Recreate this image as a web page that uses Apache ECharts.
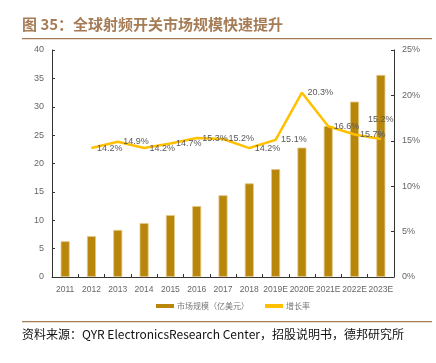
<!DOCTYPE html>
<html><head><meta charset="utf-8">
<script src="https://cdn.jsdelivr.net/npm/echarts@6/dist/echarts.min.js"></script>
<style>html,body{margin:0;padding:0;background:#fff}#c{width:436px;height:363px}</style>
</head><body><div id="c"></div>
<script>
const categories = ['2011','2012','2013','2014','2015','2016','2017','2018','2019E','2020E','2021E','2022E','2023E'];
const marketSize = [6.3, 7.2, 8.3, 9.5, 10.9, 12.5, 14.4, 16.5, 19.0, 22.8, 26.6, 30.9, 35.6];
const growthRate = [null, 14.2, 14.9, 14.2, 14.7, 15.3, 15.2, 14.2, 15.1, 20.3, 16.6, 15.7, 15.2];
const leftTicks = [0, 40, 5];
const rightTicks = [0, 25, 5];

const chart = echarts.init(document.getElementById('c'), null, {renderer:'canvas'});
const lineData = growthRate.map((v, i) => {
  if (i === growthRate.length - 1) {
    return {value: v, label: {position: 'top', distance: 14, offset: [0, 0]}, labelLine: {show: true}};
  }
  return v;
});
chart.setOption({
  animation: false,
  grid: {left: 52, right: 42, top: 50, bottom: 86},
  graphic: [
    {type: 'text', left: 22, top: 17, style: {text: '图 35：全球射频开关市场规模快速提升', font: 'bold 15px "Noto Sans CJK SC", sans-serif', fill: '#A57C55'}},
    {type: 'rect', left: 22, top: 38, shape: {width: 410, height: 1.2}, style: {fill: '#A57C55'}},
    {type: 'rect', left: 22, top: 321, shape: {width: 410, height: 1.2}, style: {fill: '#A57C55'}},
    {type: 'text', left: 22, top: 328, style: {text: '资料来源：QYR ElectronicsResearch Center，招股说明书，德邦研究所', font: '12px "Noto Sans CJK SC", sans-serif', fill: '#111'}}
  ],
  legend: {
    bottom: 48, left: 151, itemGap: 16,
    textStyle: {fontSize: 8, color: '#777', fontFamily: '"Noto Sans CJK SC", sans-serif', padding: [0, 0, 0, -2]},
    data: [
      {name: '市场规模（亿美元）', icon: 'rect', itemStyle: {color: '#B8860B', borderWidth: 0}},
      {name: '增长率', icon: 'rect', itemStyle: {color: '#FFC000'}}
    ],
    itemWidth: 18, itemHeight: 4
  },
  xAxis: {
    type: 'category', data: categories,
    axisLine: {lineStyle: {color: '#333', width: 1}},
    axisTick: {show: true, inside: true, length: 3, lineStyle: {color: '#333'}},
    axisLabel: {fontSize: 8.5, color: '#666', margin: 8, interval: 0, fontFamily: 'Liberation Sans, Arial, sans-serif'}
  },
  yAxis: [
    {type: 'value', min: leftTicks[0], max: leftTicks[1], interval: leftTicks[2],
     axisLine: {show: true, lineStyle: {color: '#333'}},
     axisTick: {show: true, inside: true, length: 3, lineStyle: {color: '#333'}},
     splitLine: {show: false},
     axisLabel: {fontSize: 9, color: '#666', margin: 8, fontFamily: 'Liberation Sans, Arial, sans-serif'}},
    {type: 'value', min: rightTicks[0], max: rightTicks[1], interval: rightTicks[2], position: 'right',
     axisLine: {show: true, lineStyle: {color: '#333'}},
     axisTick: {show: true, inside: true, length: 3, lineStyle: {color: '#333'}},
     splitLine: {show: false},
     axisLabel: {fontSize: 9, color: '#666', margin: 8, formatter: '{value}%', fontFamily: 'Liberation Sans, Arial, sans-serif'}}
  ],
  series: [
    {name: '市场规模（亿美元）', type: 'bar', data: marketSize, barWidth: 9,
     itemStyle: {color: '#B8860B', borderColor: '#E3C887', borderWidth: 0.8}},
    {name: '增长率', type: 'line', yAxisIndex: 1, data: lineData, symbol: 'circle', symbolSize: 1, showSymbol: true, z: 5,
     lineStyle: {color: '#FFC000', width: 2.5}, itemStyle: {color: '#FFC000'},
     label: {show: true, position: 'right', distance: 5, formatter: '{c}%', fontSize: 9, color: '#595959', fontFamily: 'Liberation Sans, Arial, sans-serif'},
     labelLine: {lineStyle: {color: '#999', width: 0.8}}}
  ]
});
</script></body></html>
